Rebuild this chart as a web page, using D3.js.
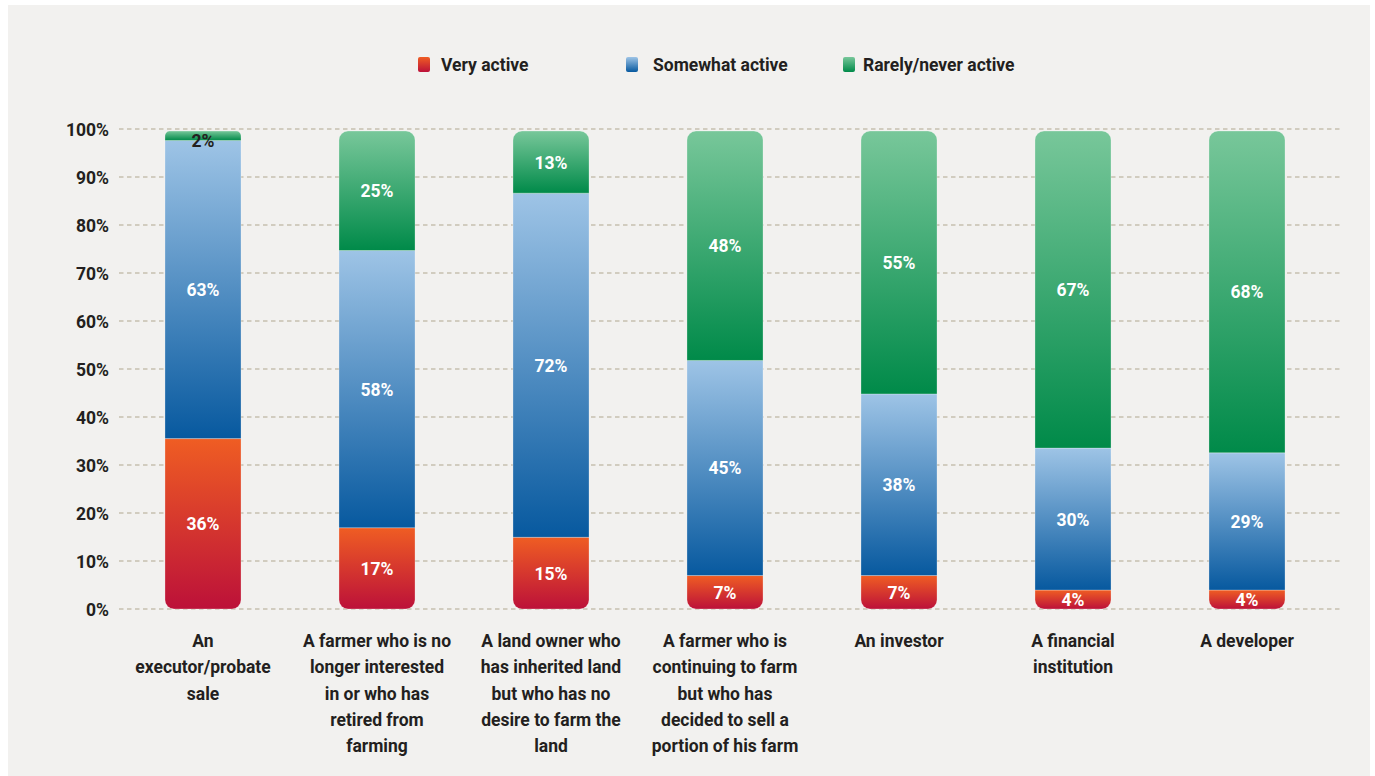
<!DOCTYPE html>
<html>
<head>
<meta charset="utf-8">
<script src="https://cdn.jsdelivr.net/npm/d3@7/dist/d3.min.js"></script>
<style>
  html, body { margin: 0; padding: 0; background: #ffffff; }
  svg { display: block; }
  text { font-family: Roboto, "Noto Sans", sans-serif; font-weight: 700; }
</style>
</head>
<body>
<svg id="chart" width="1375" height="776"></svg>
<script>
// Who sells farmland, by how active each seller type is
const categories = [
  ["An", "executor/probate", "sale"],
  ["A farmer who is no", "longer interested", "in or who has", "retired from", "farming"],
  ["A land owner who", "has inherited land", "but who has no", "desire to farm the", "land"],
  ["A farmer who is", "continuing to farm", "but who has", "decided to sell a", "portion of his farm"],
  ["An investor"],
  ["A financial", "institution"],
  ["A developer"]
];
const seriesNames = ["Very active", "Somewhat active", "Rarely/never active"];
const veryActive     = [36, 17, 15, 7, 7, 4, 4];
const somewhatActive = [63, 58, 72, 45, 38, 30, 29];
const rarelyActive   = [2, 25, 13, 48, 55, 67, 68];
const yTicks = [0, 10, 20, 30, 40, 50, 60, 70, 80, 90, 100];

const gradients = [
  { id: "g-red",   top: "#ef5d23", bottom: "#bc1139" },
  { id: "g-blue",  top: "#9ec4e6", bottom: "#07599f" },
  { id: "g-green", top: "#78c79a", bottom: "#008a49" }
];

const FS = 17.5;
const svg = d3.select("#chart");

// panel background
svg.append("rect").attr("x", 8).attr("y", 5).attr("width", 1362).attr("height", 771).attr("fill", "#f2f1ef");

const defs = svg.append("defs");
gradients.forEach(g => {
  const lg = defs.append("linearGradient").attr("id", g.id).attr("x1", 0).attr("y1", 0).attr("x2", 0).attr("y2", 1);
  lg.append("stop").attr("offset", "0%").attr("stop-color", g.top);
  lg.append("stop").attr("offset", "100%").attr("stop-color", g.bottom);
});

const x = d3.scaleBand()
  .domain(d3.range(categories.length))
  .range([116, 1334])
  .paddingInner(0.563)
  .paddingOuter(0.2815);

const y = d3.scaleLinear().domain([0, 100]).range([609, 129]);
// bars stop just short of the 100% gridline
const yBar = d3.scaleLinear().domain([0, 100]).range([609, 131]);

// gridlines
svg.append("g").selectAll("line").data(yTicks).join("line")
  .attr("x1", 119).attr("x2", 1340)
  .attr("y1", d => y(d)).attr("y2", d => y(d))
  .attr("stroke", "#c6c0b0").attr("stroke-width", 1.5).attr("stroke-dasharray", "4.5,3.5");

// y axis labels
const yAxis = d3.axisLeft(y).tickValues(yTicks).tickFormat(d => d + "%").tickSize(0).tickPadding(0);
const gy = svg.append("g").attr("transform", "translate(109,0)").call(yAxis);
gy.select(".domain").remove();
gy.selectAll("text")
  .attr("font-size", FS).attr("fill", "#231f20").attr("dy", "0.35em")
  .style("font-family", "Roboto, sans-serif").style("font-weight", 700);

// rectangle path with optional rounded top / bottom corners
function segPath(x0, y0, w, h, rt, rb) {
  rt = Math.min(rt, h / 2, w / 2);
  rb = Math.min(rb, h / 2, w / 2);
  const p = d3.path();
  p.moveTo(x0 + rt, y0);
  p.lineTo(x0 + w - rt, y0);
  if (rt) p.arcTo(x0 + w, y0, x0 + w, y0 + rt, rt);
  p.lineTo(x0 + w, y0 + h - rb);
  if (rb) p.arcTo(x0 + w, y0 + h, x0 + w - rb, y0 + h, rb);
  p.lineTo(x0 + rb, y0 + h);
  if (rb) p.arcTo(x0, y0 + h, x0, y0 + h - rb, rb);
  p.lineTo(x0, y0 + rt);
  if (rt) p.arcTo(x0, y0, x0 + rt, y0, rt);
  p.closePath();
  return p.toString();
}

// stacked, normalised to each bar's total
const rows = categories.map((c, i) => [veryActive[i], somewhatActive[i], rarelyActive[i]]);
const segments = [];
rows.forEach((vals, i) => {
  const total = d3.sum(vals);
  let acc = 0;
  vals.forEach((v, k) => {
    const lo = acc / total * 100;
    acc += v;
    const hi = acc / total * 100;
    segments.push({ i, k, v, lo, hi });
  });
});

const r = 9;
const bars = svg.append("g");
bars.selectAll("path").data(segments).join("path")
  .attr("d", d => segPath(x(d.i), yBar(d.hi), x.bandwidth(), yBar(d.lo) - yBar(d.hi),
                          d.k === 2 ? r : 0, d.k === 0 ? r : 0))
  .attr("fill", d => `url(#${gradients[d.k].id})`)
  .attr("stroke", "rgba(255,255,255,0.35)").attr("stroke-width", 0.8);

// value labels
bars.selectAll("text").data(segments).join("text")
  .attr("x", d => x(d.i) + x.bandwidth() / 2)
  .attr("y", d => {
    const h = yBar(d.lo) - yBar(d.hi);
    const mid = (yBar(d.lo) + yBar(d.hi)) / 2;
    return h < 15 ? yBar(d.hi) + 16 : mid + 6.5;
  })
  .attr("text-anchor", "middle")
  .attr("font-size", FS)
  .attr("fill", d => (yBar(d.lo) - yBar(d.hi)) < 15 ? "#231f20" : "#ffffff")
  .text(d => d.v + "%");

// category labels
const cat = svg.append("g").selectAll("text").data(categories).join("text")
  .attr("text-anchor", "middle")
  .attr("font-size", FS).attr("fill", "#231f20");
cat.each(function(lines, i) {
  d3.select(this).selectAll("tspan").data(lines).join("tspan")
    .attr("x", x(i) + x.bandwidth() / 2)
    .attr("y", (d, j) => 647 + j * 26.3)
    .text(d => d);
});

// legend
const legendX = [418, 626, 843];
const lg = svg.append("g");
seriesNames.forEach((name, k) => {
  lg.append("rect").attr("x", legendX[k]).attr("y", 57).attr("width", 12).attr("height", 15)
    .attr("rx", 2).attr("fill", `url(#${gradients[k].id})`);
  lg.append("text").attr("x", legendX[k] + (k === 2 ? 20 : k === 1 ? 27 : 23)).attr("y", 71)
    .attr("font-size", FS).attr("fill", "#231f20").text(name);
});
</script>
</body>
</html>
